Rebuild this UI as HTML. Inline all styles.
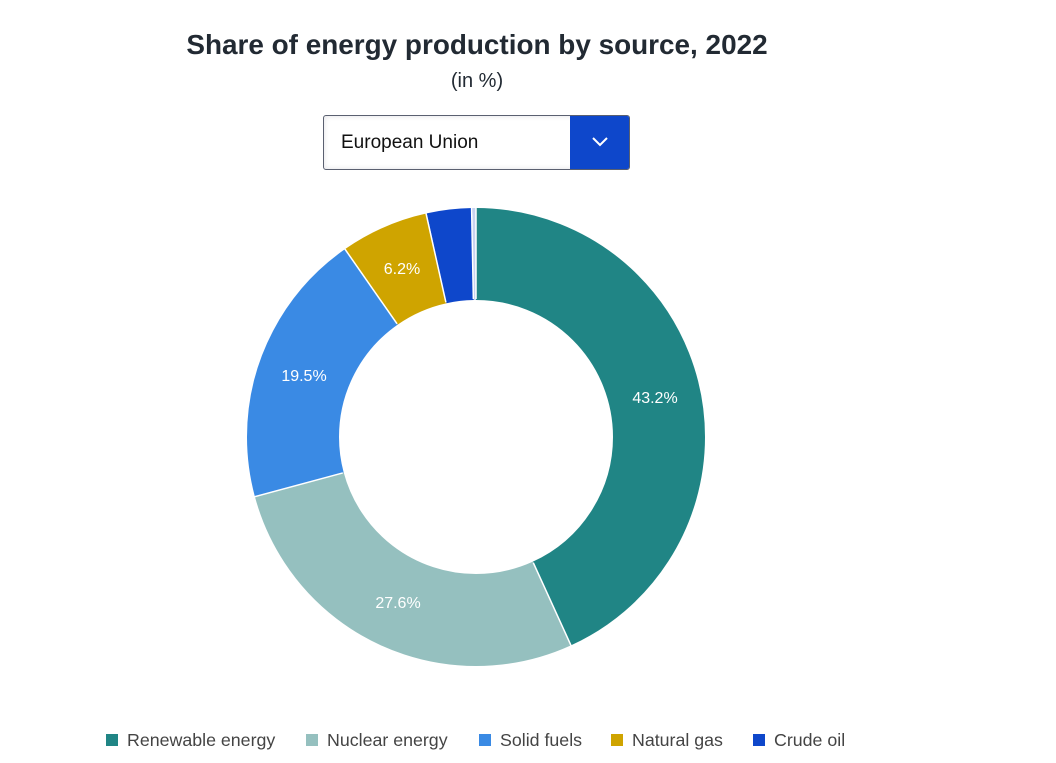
<!DOCTYPE html>
<html><head><meta charset="utf-8"><style>
body{margin:0;width:1056px;height:763px;background:#fff;font-family:"Liberation Sans",Arial,sans-serif;position:relative;overflow:hidden}
.t{position:absolute;left:0;width:954px;text-align:center;color:#222a33}
.dd{position:absolute;left:323px;top:115px;width:307px;height:55px;border:1px solid #5a6070;border-radius:3px;box-sizing:border-box;overflow:hidden;box-shadow:inset 0 0 6px rgba(0,0,40,0.12)}
.dd span{position:absolute;left:17px;top:16px;font-size:19px;color:#111}
.dd .b{position:absolute;right:0;top:0;width:59px;height:100%;background:#0e47cb}
.lg{position:absolute;top:730px;font-size:17.8px;color:#444}
.lg i{display:inline-block;width:12px;height:12px;margin-right:9px;vertical-align:0px}
</style></head><body>
<div class="t" style="top:29px;font-size:27.9px;font-weight:bold">Share of energy production by source, 2022</div>
<div class="t" style="top:70px;font-size:20px">(in %)</div>
<div class="dd"><span>European Union</span><div class="b"><svg width="59" height="53"><polyline points="23,22 30,29 37,22" fill="none" stroke="#fff" stroke-width="2"/></svg></div></div>
<svg width="1056" height="763" style="position:absolute;left:0;top:0">
<g transform="rotate(-90 476 437)" fill="none" stroke-width="92">
<circle cx="476" cy="437" r="183" stroke="#208585" stroke-dasharray="496.7 2000" stroke-dashoffset="0"/>
<circle cx="476" cy="437" r="183" stroke="#95c0bf" stroke-dasharray="317.3 2000" stroke-dashoffset="-496.7"/>
<circle cx="476" cy="437" r="183" stroke="#3a8ae4" stroke-dasharray="224.2 2000" stroke-dashoffset="-814.1"/>
<circle cx="476" cy="437" r="183" stroke="#cfa400" stroke-dasharray="71.3 2000" stroke-dashoffset="-1038.3"/>
<circle cx="476" cy="437" r="183" stroke="#0e47cb" stroke-dasharray="36.8 2000" stroke-dashoffset="-1109.6"/>
<circle cx="476" cy="437" r="183" stroke="#c8d2f0" stroke-dasharray="3.4 2000" stroke-dashoffset="-1146.4"/>
</g>
<g stroke="#fff" stroke-width="1.5">
<line x1="476" y1="299" x2="476" y2="207" transform="rotate(155.5 476 437)"/>
<line x1="476" y1="299" x2="476" y2="207" transform="rotate(254.9 476 437)"/>
<line x1="476" y1="299" x2="476" y2="207" transform="rotate(325.1 476 437)"/>
<line x1="476" y1="299" x2="476" y2="207" transform="rotate(347.4 476 437)"/>
<line x1="476" y1="299" x2="476" y2="207" transform="rotate(358.9 476 437)"/>
<line x1="476" y1="299" x2="476" y2="207" transform="rotate(0 476 437)"/>
</g>
<g fill="#fff" font-size="16" text-anchor="middle" font-family="Liberation Sans,Arial,sans-serif">
<text x="655" y="403">43.2%</text>
<text x="398" y="608">27.6%</text>
<text x="304" y="381">19.5%</text>
<text x="402" y="274">6.2%</text>
</g>
</svg>
<div class="lg" style="left:106px"><i style="background:#208585"></i>Renewable energy</div>
<div class="lg" style="left:306px"><i style="background:#95c0bf"></i>Nuclear energy</div>
<div class="lg" style="left:479px"><i style="background:#3a8ae4"></i>Solid fuels</div>
<div class="lg" style="left:611px"><i style="background:#cfa400"></i>Natural gas</div>
<div class="lg" style="left:753px"><i style="background:#0e47cb"></i>Crude oil</div>
</body></html>
